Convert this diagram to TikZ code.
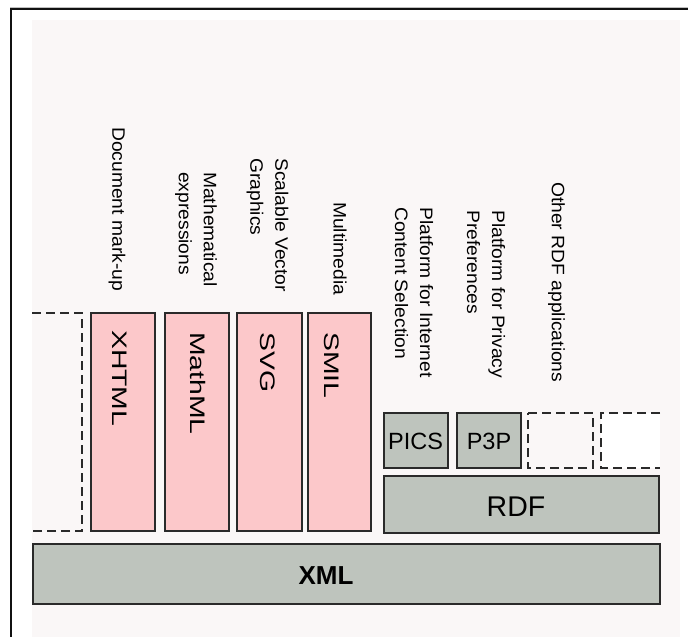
\documentclass[tikz,border=0pt]{standalone}
\usepackage{fontspec}
\setmainfont{Liberation Sans}
\newfontfamily\toplabfont[FakeStretch=1.07]{Liberation Sans}
\newfontfamily\boxlabfont[FakeStretch=1.35]{Liberation Sans}
\definecolor{pinkfill}{HTML}{FCC8CA}
\definecolor{greyfill}{HTML}{BEC4BD}
\definecolor{boxline}{HTML}{2A2A2A}
\definecolor{texture}{HTML}{FAF7F7}
\definecolor{frameline}{HTML}{111111}
\tikzset{
  boxbase/.style={draw=boxline, line width=1.5pt, inner sep=0pt, outer sep=0pt, anchor=north west},
  pinkbox/.style={boxbase, fill=pinkfill},
  greybox/.style={boxbase, fill=greyfill},
  dashline/.style={draw=boxline, line width=1.5pt, dash pattern=on 9pt off 5pt},
  toplabel/.style={rotate=-90, anchor=west, inner sep=0pt, align=left, font=\toplabfont\fontsize{18}{25}\selectfont},
  vboxlabel/.style={rotate=-90, anchor=west, inner sep=0pt, font=\boxlabfont\fontsize{21}{24}\selectfont},
  hboxlabel/.style={inner sep=0pt, anchor=center},
}
\begin{document}
\begin{tikzpicture}[x=1pt, y=-1pt]
\useasboundingbox (0,0) rectangle (688,637);
% background texture and frame
\fill[texture] (32,20) rectangle (680,637);
\draw[line width=1pt, black!25] (10,7) -- (688,7);
\draw[line width=2pt, frameline] (10,9) -- (688,9);
\draw[line width=2pt, frameline] (11,8) -- (11,637);

% XML base
\node[greybox, minimum width=627pt, minimum height=60pt] (xml) at (33,544) {};
\node[hboxlabel, font=\bfseries\fontsize{26}{30}\selectfont] (xmllab) at (326,576) {XML};

% left dashed (open) box
\coordinate (dl1) at (32,313);
\coordinate (dl2) at (82,313);
\coordinate (dl3) at (82,531);
\coordinate (dl4) at (32,531);
\draw[dashline] (dl1) -- (dl2) -- (dl3) -- (dl4);

% pink boxes
\node[pinkbox, minimum width=64pt, minimum height=218pt] (xhtml) at (91,313) {};
\node[pinkbox, minimum width=64pt, minimum height=218pt] (mathml) at (165,313) {};
\node[pinkbox, minimum width=65pt, minimum height=218pt] (svg) at (237,313) {};
\node[pinkbox, minimum width=63pt, minimum height=218pt] (smil) at (308,313) {};

\node[vboxlabel] (xhtmllab) at (119.5,330) {XHTML};
\node[vboxlabel] (mathmllab) at (198.5,332) {MathML};
\node[vboxlabel] (svglab) at (267.5,332) {SVG};
\node[vboxlabel] (smillab) at (332,332) {SMIL};

% RDF stack
\node[greybox, minimum width=275pt, minimum height=57pt] (rdf) at (384,476) {};
\node[hboxlabel, font=\fontsize{28.5}{32}\selectfont] (rdflab) at (516,507) {RDF};
\node[greybox, minimum width=64pt, minimum height=55pt] (pics) at (384,413) {};
\node[hboxlabel, font=\fontsize{23.5}{28}\selectfont] (picslab) at (415.5,441) {PICS};
\node[greybox, minimum width=64pt, minimum height=55pt] (p3p) at (457,413) {};
\node[hboxlabel, font=\fontsize{23.5}{28}\selectfont] (p3plab) at (489,441) {P3P};

% dashed placeholder boxes
\coordinate (da1) at (528,413);
\coordinate (da2) at (593,413);
\coordinate (da3) at (593,468);
\coordinate (da4) at (528,468);
\draw[dashline] (da1) -- (da2) -- (da3) -- (da4) -- cycle;
\fill[white] (601,413) rectangle (660,468);
\coordinate (db1) at (660,413);
\coordinate (db2) at (601,413);
\coordinate (db3) at (601,468);
\coordinate (db4) at (660,468);
\draw[dashline] (db1) -- (db2) -- (db3) -- (db4);

% top descriptive labels
\node[toplabel] (l1) at (117,127) {Document mark-up};
\node[toplabel] (l2) at (196,172) {Mathematical\\expressions};
\node[toplabel] (l3) at (267.5,158) {Scalable Vector\\Graphics};
\node[toplabel] (l4) at (340,202) {Multimedia};
\node[toplabel] (l5) at (414,207) {Platform for Internet\\Content Selection};
\node[toplabel] (l6) at (486,210) {Platform for Privacy\\Preferences};
\node[toplabel] (l7) at (556.5,182) {Other RDF applications};
\end{tikzpicture}
\end{document}
